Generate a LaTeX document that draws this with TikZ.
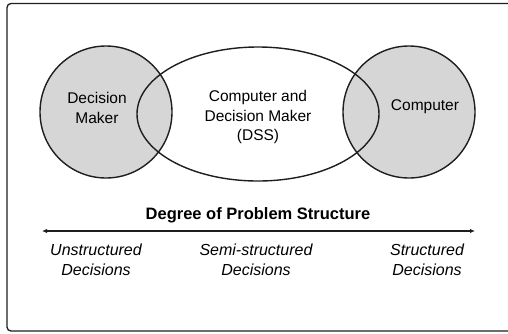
\documentclass[tikz,border=0pt]{standalone}
\usepackage{fontspec}
\setmainfont{Liberation Sans}
\usetikzlibrary{arrows.meta}
\definecolor{venngray}{HTML}{D6D6D6}
\definecolor{ink}{HTML}{1E1E1E}
\begin{document}
\begin{tikzpicture}[x=1pt,y=-1pt,
  outline/.style={draw=ink,line width=1.4pt},
  lbl/.style={align=center,font=\fontsize{15.5}{19.5}\selectfont,inner sep=0pt},
  scalelbl/.style={align=center,font=\fontsize{16}{20}\selectfont\itshape,inner sep=0pt},
  title/.style={font=\fontsize{16.5}{19}\selectfont\bfseries,inner sep=0pt}]
\useasboundingbox (0,0) rectangle (508,333);
% outer frame
\draw[ink,line width=1.3pt,rounded corners=4pt] (7,3.5) rectangle (515,331);
% Venn shapes: fills first, outlines last so every rim stays visible
\fill[white] (258,114) ellipse [x radius=121,y radius=67];
\fill[venngray] (106,112) circle [radius=66];
\fill[venngray] (409,112) circle [radius=66];
\draw[outline] (258,114) ellipse [x radius=121,y radius=67];
\draw[outline] (106,112) circle [radius=66];
\draw[outline] (409,112) circle [radius=66];
% labels in the shapes
\node[lbl] (dm) at (97,108) {Decision\\Maker};
\node[lbl] (dss) at (258,117) {Computer and\\Decision Maker\\(DSS)};
\node[lbl] (cp) at (425,107) {Computer};
% structure scale
\node[title] (ttl) at (258,215) {Degree of Problem Structure};
\coordinate (lo) at (42,231);
\coordinate (hi) at (475,231);
\draw[ink,line width=1.8pt,{Latex[length=5pt,width=4.5pt]}-{Latex[length=5pt,width=4.5pt]}] (lo) -- (hi);
\node[scalelbl] (un) at (96,260) {Unstructured\\Decisions};
\node[scalelbl] (semi) at (256,260) {Semi-structured\\Decisions};
\node[scalelbl] (st) at (427,260) {Structured\\Decisions};
\end{tikzpicture}
\end{document}
